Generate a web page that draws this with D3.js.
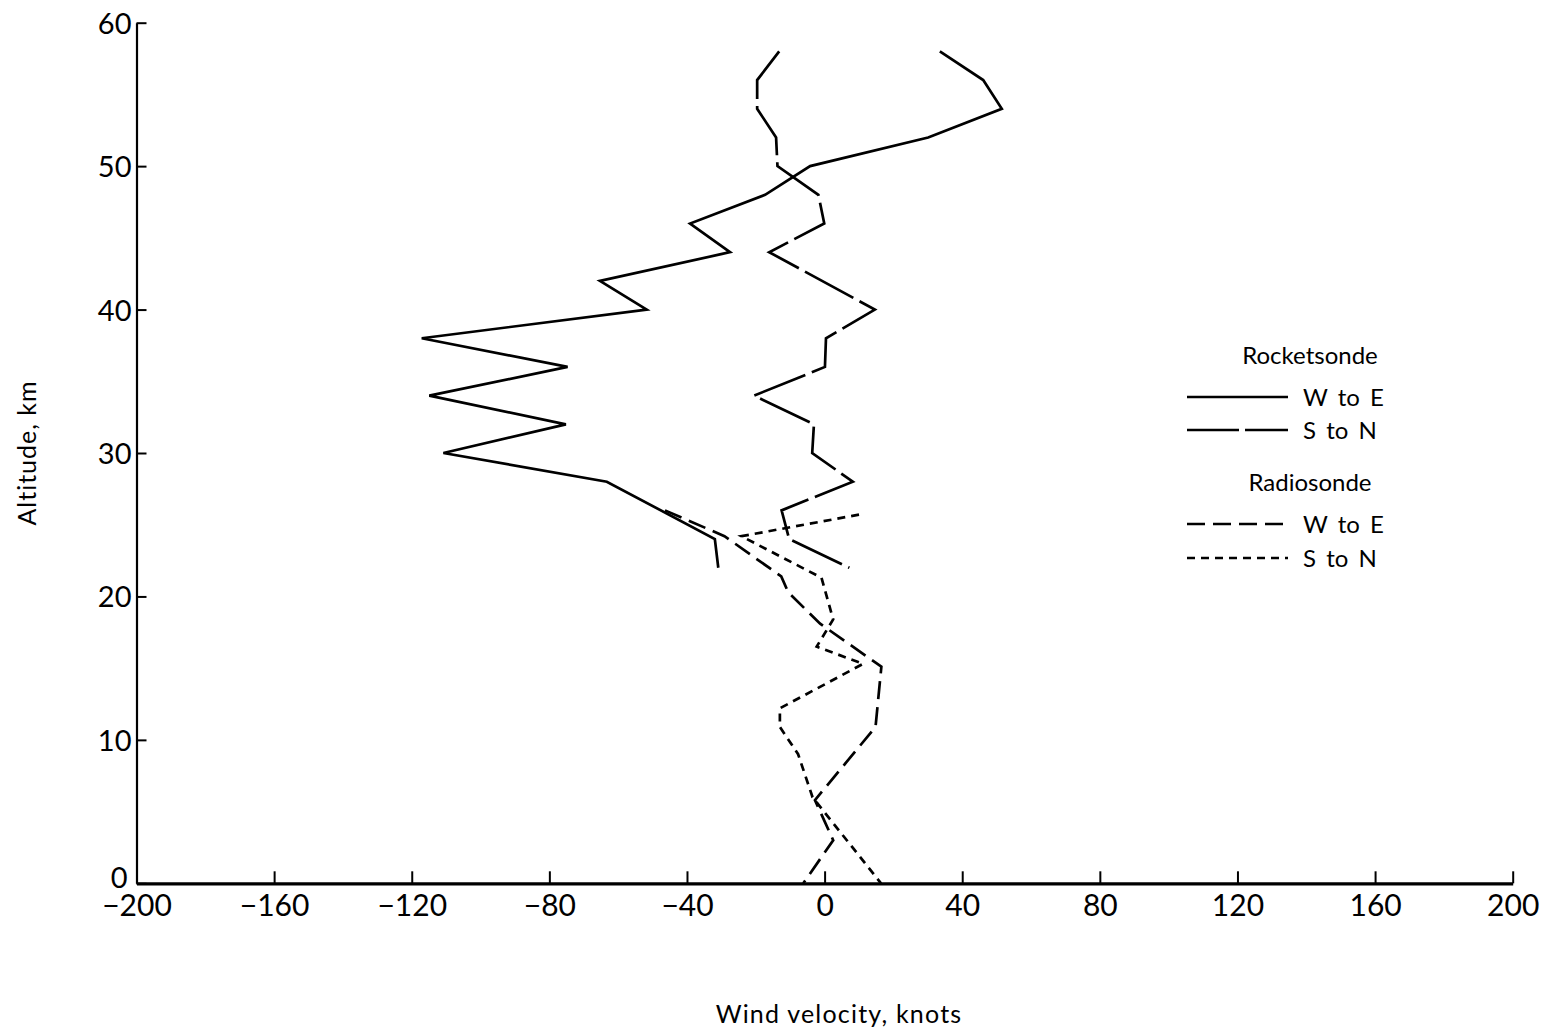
<!DOCTYPE html>
<html>
<head>
<meta charset="utf-8">
<script src="https://cdn.jsdelivr.net/npm/d3@7"></script>
<style>
  html, body { margin: 0; padding: 0; background: #fff; }
  svg { display: block; }
  text { font-family: Lato, "Noto Sans", sans-serif; fill: #000; }
</style>
</head>
<body>
<svg id="chart" width="1549" height="1031"></svg>
<script>
// Axis ticks
const xTicks = [-200, -160, -120, -80, -40, 0, 40, 80, 120, 160, 200];
const yTicks = [0, 10, 20, 30, 40, 50, 60];

// Rocketsonde, west-to-east component (knots) by altitude (km)
const rocketWEAlt = [58, 56, 54, 52, 50, 48, 46, 44, 42, 40, 38, 36, 34, 32, 30, 28, 24, 22];
const rocketWE    = [33.5, 46.1, 51.5, 30.1, -4.2, -17.3, -39.1, -27.5, -65.3, -51.7, -117.1, -74.7, -114.9, -75.2, -110.8, -63.3, -31.9, -30.9];

// Rocketsonde, south-to-north component
const rocketSNAlt = [58, 56, 54, 52, 50, 48, 46, 44, 40, 38, 36, 34, 32, 30, 28, 26, 24, 22];
const rocketSN    = [-13.2, -19.6, -19.6, -14.1, -13.7, -1.8, -0.1, -16.1, 14.6, 0.4, 0.1, -20.5, -3.1, -3.6, 8.2, -12.5, -10.3, 7.2];

// Radiosonde, west-to-east component
const radioWEAlt = [26.0, 24.2, 21.4, 20.3, 18.1, 15.1, 10.9, 5.8, 3.0, 0];
const radioWE    = [-46.4, -29.1, -12.6, -10.6, -1.3, 16.5, 14.8, -2.8, 2.5, -6.2];

// Radiosonde, south-to-north component
const radioSNAlt = [25.7, 24.2, 21.3, 18.4, 16.5, 15.3, 12.2, 10.9, 9.0, 6.0, 0];
const radioSN    = [10.0, -24.2, -0.9, 2.5, -2.3, 11.2, -13.0, -13.0, -7.7, -3.5, 16.4];

const svg = d3.select("#chart");

const x = d3.scaleLinear().domain([-200, 200]).range([136.5, 1512.7]);
const y = d3.scaleLinear().domain([0, 60]).range([883.3, 22.7]);

const fmt = d => (d < 0 ? "\u2212" + Math.abs(d) : String(d));

// X axis (ticks point up into the plot)
const gx = svg.append("g")
  .attr("transform", `translate(0,${y(0)})`)
  .call(d3.axisBottom(x).tickValues(xTicks).tickSize(-12).tickSizeOuter(0).tickFormat(fmt));
gx.select(".domain").attr("stroke", "#000").attr("stroke-width", 3.2);
gx.selectAll(".tick line").attr("stroke", "#000").attr("stroke-width", 2);
gx.selectAll(".tick text")
  .attr("y", 33).attr("dy", 0)
  .style("font-size", "30px").style("font-family", "Lato, sans-serif");

// Y axis (ticks point right into the plot)
const gy = svg.append("g")
  .attr("transform", `translate(${x(-200)},0)`)
  .call(d3.axisLeft(y).tickValues(yTicks).tickSize(-10).tickSizeOuter(0).tickFormat(fmt));
gy.select(".domain").attr("stroke", "#000").attr("stroke-width", 2.2);
gy.selectAll(".tick line").attr("stroke", "#000").attr("stroke-width", 2);
gy.selectAll(".tick text")
  .attr("x", -5).attr("dy", "0.36em")
  .style("font-size", "29px").style("font-family", "Lato, sans-serif");
// the zero label sits just above the x-axis labels
gy.selectAll(".tick").filter(d => d === 0).select("text").attr("dy", "4px").attr("x", -9);

// Axis titles
svg.append("text")
  .attr("x", 839).attr("y", 1023)
  .attr("text-anchor", "middle")
  .style("font-size", "25px")
  .style("letter-spacing", "1.2px")
  .text("Wind velocity, knots");

svg.append("text")
  .attr("transform", "translate(36,453) rotate(-90)")
  .attr("text-anchor", "middle")
  .style("font-size", "25px")
  .style("letter-spacing", "1px")
  .text("Altitude, km");

// Profiles
const line = d3.line().x(d => x(d[0])).y(d => y(d[1]));
const zip = (vals, alts) => vals.map((v, i) => [v, alts[i]]);

const series = [
  { vals: rocketWE, alts: rocketWEAlt, dash: null },
  { vals: rocketSN, alts: rocketSNAlt, dash: "55,7" },
  { vals: radioWE,  alts: radioWEAlt,  dash: "18,8" },
  { vals: radioSN,  alts: radioSNAlt,  dash: "8,6" }
];

series.forEach(s => {
  svg.append("path")
    .datum(zip(s.vals, s.alts))
    .attr("fill", "none")
    .attr("stroke", "#000")
    .attr("stroke-width", 2.7)
    .attr("stroke-linejoin", "miter")
    .attr("stroke-dasharray", s.dash)
    .attr("d", line);
});

// Legend
const legend = svg.append("g");
const legendRows = [
  { type: "head", label: "Rocketsonde", y: 355 },
  { type: "row", label: "W to E", y: 397, dash: null },
  { type: "row", label: "S to N", y: 430, dash: "52,6" },
  { type: "head", label: "Radiosonde", y: 482 },
  { type: "row", label: "W to E", y: 524, dash: "18,8" },
  { type: "row", label: "S to N", y: 558, dash: "8,6" }
];
legendRows.forEach(r => {
  if (r.type === "head") {
    legend.append("text")
      .attr("x", 1310).attr("y", r.y).attr("dy", "0.36em")
      .attr("text-anchor", "middle")
      .style("font-size", "24px")
      .text(r.label);
  } else {
    legend.append("line")
      .attr("x1", 1187).attr("x2", 1288)
      .attr("y1", r.y).attr("y2", r.y)
      .attr("stroke", "#000").attr("stroke-width", 2.4)
      .attr("stroke-dasharray", r.dash);
    legend.append("text")
      .attr("x", 1303).attr("y", r.y).attr("dy", "0.36em")
      .style("font-size", "24px")
      .style("word-spacing", "4px")
      .text(r.label);
  }
});
</script>
</body>
</html>
